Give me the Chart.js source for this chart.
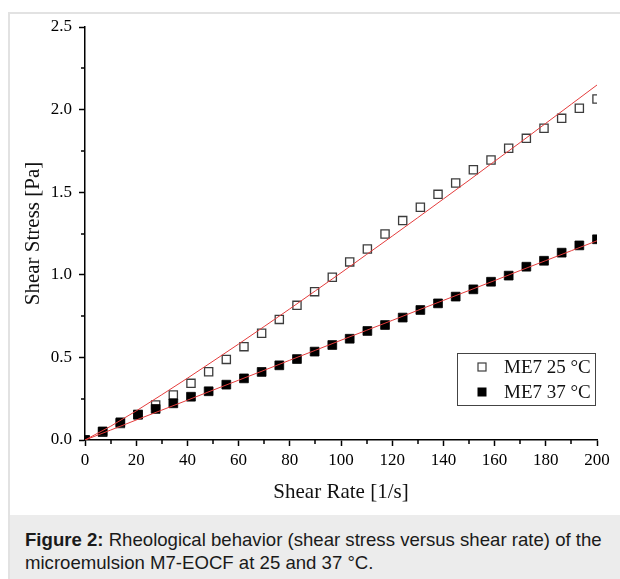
<!DOCTYPE html>
<html>
<head>
<meta charset="utf-8">
<title>Shear stress vs shear rate</title>
<script src="https://cdn.jsdelivr.net/npm/chart.js@4.4.1/dist/chart.umd.min.js"></script>
<style>
  body { margin: 0; background: #fff; }
  #frame {
    position: absolute; left: 8px; top: 12px; width: 620px; height: 580px;
    border-left: 2px solid #e2e2e2; border-top: 2px solid #e2e2e2;
  }
  #caption {
    position: absolute; left: 10px; top: 515px; width: 610px; height: 64px;
    background: #ececec; box-sizing: border-box; padding: 13px 0 0 15px;
    font-family: "Liberation Sans", Arial, sans-serif; font-size: 18.6px;
    line-height: 23px; color: #1a1a1a; white-space: nowrap;
  }
  #wrap { position: absolute; left: 0; top: 0; }
</style>
</head>
<body>
<div id="frame"></div>
<div id="wrap"><canvas id="flowChart" width="620" height="512"></canvas></div>
<div id="caption"><b>Figure 2:</b> Rheological behavior (shear stress versus shear rate) of the<br>microemulsion M7-EOCF at 25 and 37 °C.</div>
<script>
// measured points (shear rate in 1/s, stress in Pa)
const rates = [0, 6.9, 13.8, 20.7, 27.6, 34.5, 41.4, 48.3, 55.2, 62.1, 69.0, 75.9, 82.8, 89.7, 96.6,
  103.4, 110.3, 117.2, 124.1, 131.0, 137.9, 144.8, 151.7, 158.6, 165.5, 172.4, 179.3, 186.2, 193.1, 200.0];
const stress25 = [0, 0.047, 0.100, 0.155, 0.212, 0.272, 0.343, 0.413, 0.488, 0.565, 0.646, 0.730, 0.815, 0.898, 0.985,
  1.078, 1.156, 1.247, 1.328, 1.409, 1.487, 1.556, 1.636, 1.695, 1.766, 1.826, 1.887, 1.947, 2.008, 2.064];
const stress37 = [0, 0.052, 0.107, 0.153, 0.188, 0.222, 0.262, 0.295, 0.335, 0.373, 0.412, 0.452, 0.490, 0.535, 0.575,
  0.613, 0.660, 0.696, 0.741, 0.787, 0.827, 0.868, 0.912, 0.958, 0.995, 1.049, 1.085, 1.134, 1.178, 1.215];

// fitted curves
const fitRates = [0, 10, 20, 30, 40, 50, 60, 70, 80, 90, 100, 110, 120, 130, 140, 150, 160, 170, 180, 190, 200];
const fit25 = [0, 0.083, 0.176, 0.274, 0.374, 0.477, 0.581, 0.687, 0.794, 0.903, 1.012,
  1.123, 1.234, 1.346, 1.459, 1.572, 1.687, 1.801, 1.917, 2.033, 2.149];
const fit37 = [0, 0.060, 0.121, 0.181, 0.241, 0.302, 0.362, 0.422, 0.483, 0.543, 0.604,
  0.664, 0.724, 0.785, 0.845, 0.905, 0.965, 1.026, 1.086, 1.146, 1.206];

const seriesLabels = ["ME7 25 °C", "ME7 37 °C"];
const xMinor = [10, 30, 50, 70, 90, 110, 130, 150, 170, 190];
const yMinor = [0.25, 0.75, 1.25, 1.75, 2.25];

const serif = "'Liberation Serif', 'Times New Roman', serif";
const fitColor = "rgb(228, 60, 60)";

const toXY = (xs, ys) => xs.map((x, i) => ({ x: x, y: ys[i] }));

// small outer ticks between the labelled ones
const minorTicks = {
  id: "minorTicks",
  afterDraw(chart) {
    const { ctx, chartArea } = chart;
    const x = chart.scales.x;
    const y = chart.scales.y;
    ctx.save();
    ctx.strokeStyle = "#000";
    ctx.lineWidth = 1.5;
    ctx.beginPath();
    xMinor.forEach((v) => {
      const px = Math.round(x.getPixelForValue(v));
      ctx.moveTo(px, chartArea.bottom);
      ctx.lineTo(px, chartArea.bottom + 4);
    });
    yMinor.forEach((v) => {
      const py = Math.round(y.getPixelForValue(v));
      ctx.moveTo(chartArea.left, py);
      ctx.lineTo(chartArea.left - 4, py);
    });
    ctx.stroke();
    ctx.restore();
  },
};

// boxed legend in the lower right of the plot
const boxLegend = {
  id: "boxLegend",
  afterDraw(chart) {
    const { ctx, chartArea } = chart;
    const items = seriesLabels.map((l) => chart.data.datasets.find((d) => d.label === l));
    const bx = chartArea.right - 140, by = chartArea.bottom - 87, bw = 138, bh = 52;
    ctx.save();
    ctx.fillStyle = "#fff";
    ctx.fillRect(bx, by, bw, bh);
    ctx.strokeStyle = "#444";
    ctx.lineWidth = 1;
    ctx.strokeRect(bx + 0.5, by + 0.5, bw, bh);
    ctx.font = "19px " + serif;
    ctx.textBaseline = "middle";
    items.forEach((d, i) => {
      const cy = by + 14 + i * 25;
      const cx = bx + 25;
      if (d.pointBackgroundColor === "#000") {
        ctx.fillStyle = "#000";
        ctx.fillRect(cx - 4.5, cy - 4.5, 9, 9);
      } else {
        ctx.strokeStyle = d.pointBorderColor;
        ctx.lineWidth = 1.2;
        ctx.strokeRect(cx - 4, cy - 4, 8, 8);
      }
      ctx.fillStyle = "#111";
      ctx.fillText(d.label, bx + 47, cy + 1);
    });
    ctx.restore();
  },
};

new Chart(document.getElementById("flowChart").getContext("2d"), {
  type: "scatter",
  data: {
    datasets: [
      {
        label: "fit 25",
        type: "line",
        data: toXY(fitRates, fit25),
        borderColor: fitColor,
        borderWidth: 1,
        pointRadius: 0,
        fill: false,
        clip: 0,
        order: 0,
      },
      {
        label: "fit 37",
        type: "line",
        data: toXY(fitRates, fit37),
        borderColor: fitColor,
        borderWidth: 1,
        pointRadius: 0,
        fill: false,
        clip: 0,
        order: 0,
      },
      {
        label: seriesLabels[1],
        data: toXY(rates, stress37),
        pointStyle: "rect",
        pointRadius: 6.2,
        pointBackgroundColor: "#000",
        pointBorderColor: "#000",
        pointBorderWidth: 0.8,
        clip: 0,
        order: 1,
      },
      {
        label: seriesLabels[0],
        data: toXY(rates, stress25),
        pointStyle: "rect",
        pointRadius: 5.8,
        pointBackgroundColor: "rgba(255,255,255,0)",
        pointBorderColor: "#3c3c3c",
        pointBorderWidth: 1.3,
        clip: 0,
        order: 2,
      },
    ],
  },
  options: {
    responsive: false,
    animation: false,
    devicePixelRatio: 1,
    layout: { padding: { left: 0, top: 27, right: 23, bottom: 7 } },
    plugins: {
      legend: { display: false },
      tooltip: { enabled: false },
    },
    scales: {
      x: {
        type: "linear",
        min: 0,
        max: 200,
        afterFit: (scale) => { scale.height = 65; },
        border: { display: true, color: "#000", width: 1.5 },
        grid: { display: true, drawOnChartArea: false, drawTicks: true, tickLength: 6, tickColor: "#000", tickWidth: 1.5 },
        ticks: {
          stepSize: 20,
          autoSkip: false,
          maxRotation: 0,
          padding: 4,
          color: "#000",
          font: { family: serif, size: 17 },
        },
        title: {
          display: true,
          text: "Shear Rate [1/s]",
          color: "#111",
          font: { family: serif, size: 21 },
          padding: { top: 0, bottom: 0 },
        },
      },
      y: {
        type: "linear",
        min: 0,
        max: 2.5,
        afterFit: (scale) => { scale.width = 85; },
        border: { display: true, color: "#000", width: 1.5 },
        grid: { display: true, drawOnChartArea: false, drawTicks: true, tickLength: 6, tickColor: "#000", tickWidth: 1.5 },
        ticks: {
          stepSize: 0.5,
          autoSkip: false,
          padding: 7,
          color: "#000",
          font: { family: serif, size: 17 },
          callback: (v) => v.toFixed(1),
        },
        title: {
          display: true,
          text: "Shear Stress [Pa]",
          color: "#111",
          font: { family: serif, size: 21 },
          padding: { top: 21, bottom: 0 },
        },
      },
    },
  },
  plugins: [minorTicks, boxLegend],
});
</script>
</body>
</html>
